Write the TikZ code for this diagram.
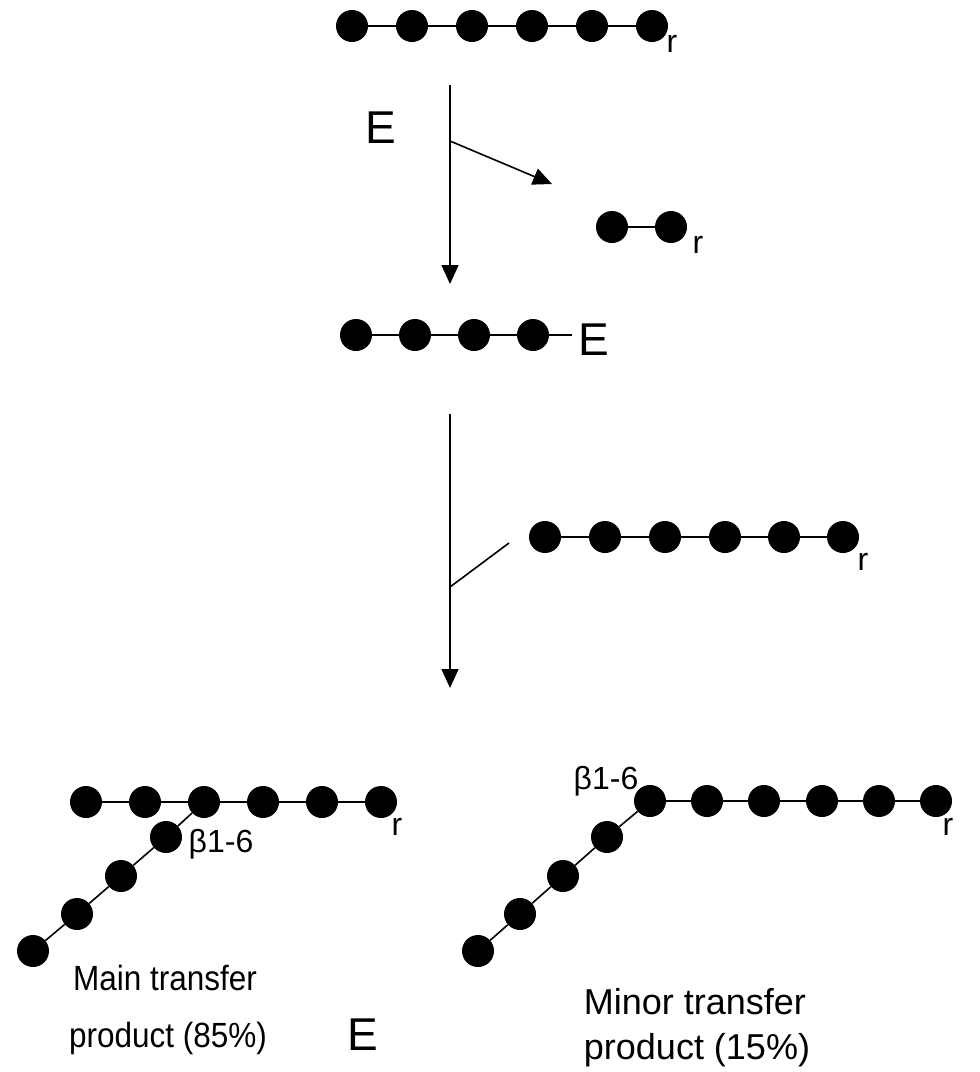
\documentclass[tikz,border=0pt]{standalone}
\usepackage{fontspec}
\setmainfont{Liberation Sans}
\newfontfamily\capfont[FakeStretch=0.9]{Liberation Sans}
\usetikzlibrary{arrows.meta}
\begin{document}
\begin{tikzpicture}[x=1pt,y=-1pt,
  glc/.style={circle,fill=black,minimum size=32pt,inner sep=0pt},
  bond/.style={line width=1.6pt},
  flow/.style={line width=1.6pt,-{Triangle[width=17pt,length=19pt]}},
  lbl/.style={inner sep=0pt,anchor=base,font=\fontsize{32}{36}\selectfont},
  txtA/.style={inner sep=0pt,anchor=base,font=\capfont\fontsize{35}{40}\selectfont},
  txtB/.style={inner sep=0pt,anchor=base,font=\fontsize{36}{40}\selectfont},
  big/.style={inner sep=0pt,anchor=base,font=\fontsize{46}{50}\selectfont}]
\useasboundingbox (0,0) rectangle (980,1072);

% top chain
\foreach \i/\x in {1/352,2/412,3/472,4/532,5/592,6/652}
  \node[glc] (t\i) at (\x,26) {};
\foreach \a/\b in {1/2,2/3,3/4,4/5,5/6} \draw[bond] (t\a) -- (t\b);
\node[lbl] (tr) at (672,52) {r};

% first arrow
\coordinate (v1s) at (450,85);
\coordinate (v1e) at (450,284);
\coordinate (b1s) at (450,141);
\coordinate (b1e) at (552,184);
\draw[flow] (v1s) -- (v1e);
\draw[flow] (b1s) -- (b1e);
\node[big] (E1) at (381,143) {E};

% released disaccharide
\node[glc] (s1) at (612,227) {};
\node[glc] (s2) at (671,227) {};
\draw[bond] (s1) -- (s2);
\node[lbl] (sr) at (698,253) {r};

% enzyme intermediate
\foreach \i/\x in {1/356,2/415,3/474,4/533}
  \node[glc] (m\i) at (\x,335) {};
\foreach \a/\b in {1/2,2/3,3/4} \draw[bond] (m\a) -- (m\b);
\coordinate (me) at (572,335);
\draw[bond] (m4) -- (me);
\node[big] (E2) at (594,355) {E};

% second arrow
\coordinate (v2s) at (450,414);
\coordinate (v2e) at (450,688);
\coordinate (b2s) at (450,587);
\coordinate (b2e) at (509,543);
\draw[flow] (v2s) -- (v2e);
\draw[bond] (b2s) -- (b2e);

% acceptor chain
\foreach \i/\x in {1/545,2/605,3/665,4/725,5/784,6/843}
  \node[glc] (c\i) at (\x,537) {};
\foreach \a/\b in {1/2,2/3,3/4,4/5,5/6} \draw[bond] (c\a) -- (c\b);
\node[lbl] (cr) at (863,570) {r};

% main product
\foreach \i/\x in {1/86,2/145,3/204,4/263,5/322,6/381}
  \node[glc] (L\i) at (\x,802) {};
\foreach \a/\b in {1/2,2/3,3/4,4/5,5/6} \draw[bond] (L\a) -- (L\b);
\node[glc] (Lb1) at (166,837) {};
\node[glc] (Lb2) at (121,876) {};
\node[glc] (Lb3) at (77,914) {};
\node[glc] (Lb4) at (33,951) {};
\draw[bond] (L3) -- (Lb1);
\draw[bond] (Lb1) -- (Lb2);
\draw[bond] (Lb2) -- (Lb3);
\draw[bond] (Lb3) -- (Lb4);
\node[lbl] (Lr) at (397,835) {r};
\node[lbl] (Lbeta) at (221,852) {β1-6};

% minor product
\foreach \i/\x in {1/650,2/707,3/764,4/822,5/879,6/936}
  \node[glc] (R\i) at (\x,801) {};
\foreach \a/\b in {1/2,2/3,3/4,4/5,5/6} \draw[bond] (R\a) -- (R\b);
\node[glc] (Rb1) at (607,837) {};
\node[glc] (Rb2) at (563,876) {};
\node[glc] (Rb3) at (520,914) {};
\node[glc] (Rb4) at (478,951) {};
\draw[bond] (R1) -- (Rb1);
\draw[bond] (Rb1) -- (Rb2);
\draw[bond] (Rb2) -- (Rb3);
\draw[bond] (Rb3) -- (Rb4);
\node[lbl] (Rr) at (948,835) {r};
\node[lbl] (Rbeta) at (606,789) {β1-6};

% captions
\node[txtA] (mainA) at (165,990) {Main transfer};
\node[txtA] (mainB) at (168,1047) {product (85\%)};
\node[big] (E3) at (363,1050) {E};
\node[txtB] (minA) at (695,1014) {Minor transfer};
\node[txtB] (minB) at (697,1059) {product (15\%)};
\end{tikzpicture}
\end{document}
